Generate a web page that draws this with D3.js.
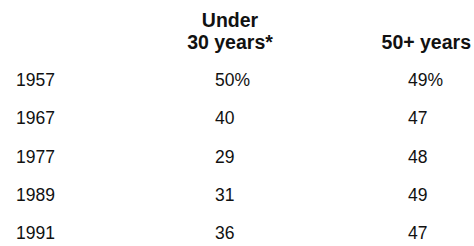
<!DOCTYPE html>
<html>
<head>
<meta charset="utf-8">
<script src="https://cdn.jsdelivr.net/npm/d3@7"></script>
<style>
  body { margin: 0; background: #fff; }
  svg text { font-family: "Liberation Sans", Arial, Helvetica, sans-serif; fill: #111; }
</style>
</head>
<body>
<div id="chart"></div>
<script>
'use strict';

// table data
var years = ["1957", "1967", "1977", "1989", "1991"];
var under30 = [50, 40, 29, 31, 36];
var over50 = [49, 47, 48, 49, 47];
var headers = [["Under", "30 years*"], ["50+ years"]];

var width = 474, height = 246;

var svg = d3.select("#chart").append("svg")
    .attr("width", width)
    .attr("height", height);

// rows
var y = d3.scalePoint()
    .domain(years)
    .range([86, 239]);

// columns: year label, under 30, 50+
var colX = d3.scaleOrdinal()
    .domain(["year", "under30", "over50"])
    .range([16, 215, 408]);

var fmt = function (v, i) { return i === 0 ? v + "%" : String(v); };

// header
var hdr = svg.append("g").attr("class", "header")
    .style("font-weight", "bold")
    .style("font-size", "19.5px");

hdr.append("text")
    .attr("x", 230)
    .attr("y", 27)
    .attr("text-anchor", "middle")
    .text(headers[0][0]);

hdr.append("text")
    .attr("x", 230)
    .attr("y", 49)
    .attr("text-anchor", "middle")
    .text(headers[0][1]);

hdr.append("text")
    .attr("x", 471)
    .attr("y", 49)
    .attr("text-anchor", "end")
    .text(headers[1][0]);

// body rows
var rows = svg.append("g").attr("class", "rows")
    .style("font-size", "17.5px")
    .selectAll("g")
    .data(years)
    .enter().append("g")
    .attr("transform", function (d) { return "translate(0," + y(d) + ")"; });

rows.append("text")
    .attr("x", colX("year"))
    .text(function (d) { return d; });

rows.append("text")
    .attr("x", colX("under30"))
    .text(function (d, i) { return fmt(under30[i], i); });

rows.append("text")
    .attr("x", colX("over50"))
    .text(function (d, i) { return fmt(over50[i], i); });
</script>
</body>
</html>
